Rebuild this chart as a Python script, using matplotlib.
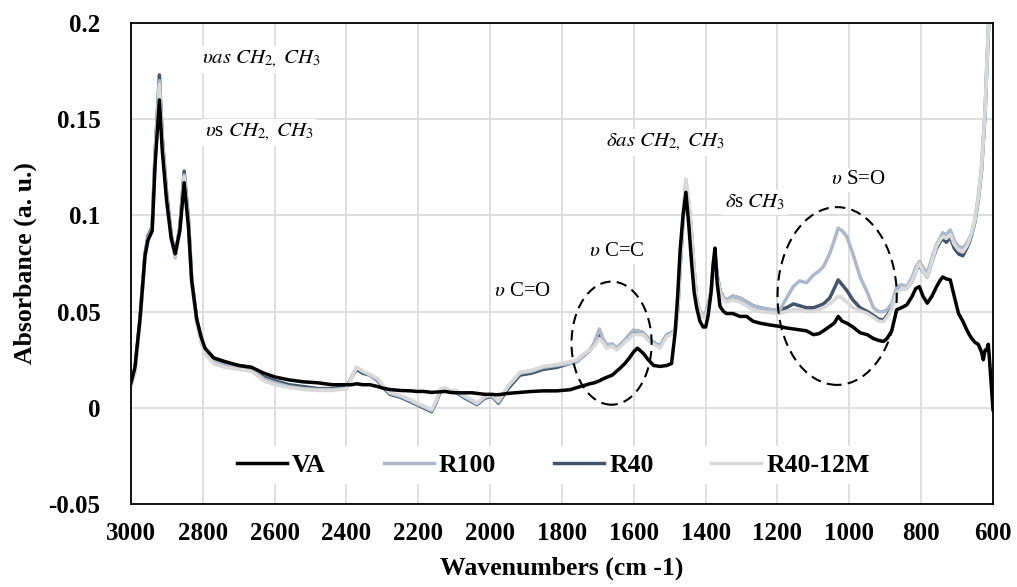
import matplotlib
matplotlib.use("Agg")
import matplotlib.pyplot as plt
from matplotlib.patches import Ellipse

plt.rcParams['font.family'] = ['Liberation Serif', 'DejaVu Serif']
plt.rcParams['mathtext.fontset'] = 'stix'

# wavenumbers (cm-1), shared by all spectra
wn = [3000, 2989, 2975, 2961, 2953, 2941, 2933, 2921, 2913, 2901, 2888, 2877, 2864, 2852, 2840,
      2831, 2817, 2805, 2794, 2770, 2738, 2700, 2664, 2630, 2599, 2560, 2520, 2480, 2440,
      2400, 2385, 2372, 2355, 2335, 2312, 2295, 2279, 2250, 2220, 2204, 2185, 2163, 2150, 2138,
      2126, 2110, 2094, 2070, 2050, 2037, 2015, 1996, 1985, 1977, 1950, 1917, 1885, 1852, 1815,
      1777, 1759, 1740, 1722, 1710, 1696, 1686, 1676, 1660, 1648, 1636, 1625, 1612, 1601, 1590,
      1574, 1560, 1545, 1527, 1508, 1495, 1485, 1478, 1471, 1463, 1455, 1447, 1439, 1432, 1425,
      1416, 1407, 1400, 1393, 1385, 1379, 1374, 1368, 1360, 1350, 1342, 1324, 1305, 1286, 1268,
      1249, 1220, 1193, 1175, 1156, 1138, 1119, 1100, 1085, 1072, 1055, 1042, 1031, 1020, 1007,
      990, 970, 950, 933, 918, 905, 895, 882, 868, 855, 840, 825, 815, 805, 795, 783, 770, 757,
      748, 740, 730, 719, 708, 696, 684, 673, 666, 659, 650, 641, 632, 627, 622, 618, 613, 609,
      605, 600]

va = [0.013, 0.021, 0.046, 0.079, 0.087, 0.092, 0.126, 0.160, 0.134, 0.108, 0.088, 0.080, 0.092, 0.117, 0.094,
      0.066, 0.046, 0.037, 0.031, 0.026, 0.024, 0.022, 0.021, 0.018, 0.016, 0.0145, 0.0135, 0.013, 0.012,
      0.012, 0.012, 0.0125, 0.012, 0.012, 0.011, 0.010, 0.0095, 0.009, 0.0088, 0.0085, 0.0085, 0.008, 0.0082, 0.0083,
      0.0085, 0.008, 0.0078, 0.0078, 0.0078, 0.0075, 0.007, 0.007, 0.0068, 0.0068, 0.0075, 0.008, 0.0085, 0.0088, 0.0088,
      0.0094, 0.0105, 0.0115, 0.0125, 0.013, 0.014, 0.015, 0.0158, 0.017, 0.019, 0.021, 0.023, 0.026, 0.029, 0.031,
      0.0284, 0.025, 0.022, 0.0215, 0.022, 0.023, 0.039, 0.058, 0.082, 0.100, 0.112, 0.095, 0.075, 0.060, 0.052,
      0.045, 0.042, 0.042, 0.048, 0.060, 0.075, 0.083, 0.065, 0.0527, 0.050, 0.049, 0.049, 0.0475, 0.0475, 0.045,
      0.044, 0.043, 0.0423, 0.0415, 0.041, 0.0405, 0.040, 0.038, 0.0385, 0.040, 0.0423, 0.044, 0.0475, 0.045, 0.044,
      0.042, 0.039, 0.038, 0.036, 0.035, 0.0345, 0.036, 0.040, 0.051, 0.052, 0.0535, 0.058, 0.062, 0.063, 0.058, 0.0544, 0.058, 0.063,
      0.066, 0.068, 0.067, 0.0665, 0.058, 0.049, 0.045, 0.0405, 0.038, 0.036, 0.034, 0.033, 0.029, 0.025, 0.030, 0.030, 0.033, 0.023,
      0.012, -0.001]

r100 = [0.012, 0.019, 0.045, 0.079, 0.088, 0.093, 0.130, 0.170, 0.139, 0.110, 0.089, 0.078, 0.093, 0.121, 0.096,
        0.066, 0.045, 0.035, 0.029, 0.024, 0.022, 0.021, 0.020, 0.015, 0.013, 0.011, 0.010, 0.0095, 0.0095,
        0.010, 0.016, 0.021, 0.019, 0.017, 0.0145, 0.0105, 0.0075, 0.006, 0.0035, 0.002, 0.0005, -0.0015, 0.0035, 0.0095,
        0.010, 0.0085, 0.0085, 0.0055, 0.0035, 0.002, 0.0055, 0.0065, 0.0045, 0.003, 0.011, 0.018, 0.019, 0.021, 0.022,
        0.023, 0.024, 0.027, 0.030, 0.034, 0.041, 0.036, 0.033, 0.033, 0.031, 0.033, 0.035, 0.038, 0.0405, 0.040,
        0.039, 0.036, 0.034, 0.032, 0.038, 0.039, 0.0405, 0.050, 0.073, 0.098, 0.117, 0.106, 0.090, 0.071, 0.056,
        0.050, 0.048, 0.049, 0.053, 0.060, 0.072, 0.079, 0.068, 0.061, 0.057, 0.056, 0.058, 0.057, 0.055, 0.053,
        0.052, 0.051, 0.051, 0.057, 0.063, 0.066, 0.065, 0.069, 0.071, 0.0734, 0.080, 0.087, 0.0934, 0.092, 0.089,
        0.080, 0.068, 0.060, 0.052, 0.050, 0.050, 0.051, 0.054, 0.063, 0.064, 0.063, 0.068, 0.073, 0.076, 0.073, 0.070, 0.078, 0.085,
        0.088, 0.091, 0.090, 0.0925, 0.087, 0.084, 0.083, 0.0855, 0.088, 0.091, 0.098, 0.110, 0.125, 0.140, 0.155, 0.175, 0.198, 0.215,
        0.225, 0.235]

r40 = [0.012, 0.020, 0.046, 0.080, 0.089, 0.094, 0.132, 0.173, 0.141, 0.112, 0.090, 0.079, 0.094, 0.123, 0.098,
       0.067, 0.046, 0.036, 0.030, 0.025, 0.023, 0.022, 0.021, 0.016, 0.014, 0.012, 0.011, 0.010, 0.010,
       0.011, 0.016, 0.020, 0.018, 0.017, 0.014, 0.010, 0.007, 0.0055, 0.003, 0.0016, 0.000, -0.002, 0.003, 0.009,
       0.0094, 0.008, 0.008, 0.005, 0.003, 0.0016, 0.005, 0.006, 0.004, 0.0024, 0.010, 0.017, 0.018, 0.020, 0.021,
       0.023, 0.024, 0.027, 0.030, 0.033, 0.039, 0.035, 0.032, 0.033, 0.031, 0.033, 0.035, 0.038, 0.040, 0.040,
       0.039, 0.036, 0.034, 0.032, 0.038, 0.039, 0.040, 0.050, 0.073, 0.098, 0.117, 0.106, 0.090, 0.071, 0.056,
       0.050, 0.048, 0.049, 0.053, 0.060, 0.073, 0.080, 0.069, 0.061, 0.057, 0.056, 0.058, 0.057, 0.055, 0.053,
       0.052, 0.051, 0.051, 0.052, 0.054, 0.053, 0.052, 0.052, 0.053, 0.054, 0.057, 0.062, 0.0665, 0.064, 0.061,
       0.056, 0.052, 0.050, 0.048, 0.046, 0.0457, 0.048, 0.052, 0.061, 0.062, 0.062, 0.066, 0.071, 0.074, 0.071, 0.068, 0.076, 0.083,
       0.086, 0.088, 0.086, 0.0885, 0.083, 0.080, 0.079, 0.083, 0.086, 0.090, 0.097, 0.108, 0.123, 0.138, 0.153, 0.173, 0.196, 0.213,
       0.223, 0.233]

r40_12m = [0.011, 0.018, 0.044, 0.078, 0.087, 0.092, 0.129, 0.168, 0.138, 0.109, 0.088, 0.079, 0.092, 0.120, 0.095,
           0.065, 0.044, 0.034, 0.028, 0.023, 0.021, 0.020, 0.019, 0.014, 0.012, 0.0105, 0.0095, 0.009, 0.009,
           0.010, 0.016, 0.021, 0.019, 0.0175, 0.015, 0.011, 0.008, 0.0065, 0.004, 0.0025, 0.001, -0.001, 0.004, 0.010,
           0.0105, 0.009, 0.009, 0.006, 0.004, 0.0025, 0.006, 0.007, 0.005, 0.0035, 0.0115, 0.0185, 0.0195, 0.0215, 0.0225,
           0.024, 0.025, 0.028, 0.030, 0.032, 0.036, 0.034, 0.031, 0.032, 0.030, 0.032, 0.034, 0.036, 0.038, 0.038,
           0.038, 0.035, 0.033, 0.031, 0.037, 0.038, 0.040, 0.050, 0.074, 0.100, 0.119, 0.108, 0.091, 0.072, 0.056,
           0.050, 0.047, 0.048, 0.052, 0.059, 0.072, 0.079, 0.068, 0.060, 0.056, 0.055, 0.056, 0.055, 0.053, 0.051,
           0.050, 0.0495, 0.049, 0.050, 0.051, 0.051, 0.050, 0.050, 0.051, 0.052, 0.054, 0.056, 0.058, 0.057, 0.055,
           0.052, 0.0505, 0.049, 0.047, 0.045, 0.0448, 0.047, 0.051, 0.060, 0.062, 0.062, 0.066, 0.071, 0.075, 0.071, 0.068, 0.076, 0.084,
           0.087, 0.089, 0.088, 0.090, 0.085, 0.082, 0.081, 0.084, 0.087, 0.091, 0.098, 0.109, 0.124, 0.139, 0.154, 0.174, 0.197, 0.214,
           0.224, 0.234]

series = [("R40", r40, "#44546a"), ("R100", r100, "#adb9ca"),
          ("R40-12M", r40_12m, "#d9d9d9"), ("VA", va, "#000000")]
legend_order = ["VA", "R100", "R40", "R40-12M"]

# band labels: (text, wavenumber, absorbance)
bands = [
    (r"$\upsilon as\ CH_{2,}\ CH_3$", 2636, 0.181),
    (r"$\upsilon$s $CH_{2,}\ CH_3$", 2644, 0.143),
    (r"$\delta as\ CH_{2,}\ CH_3$", 1513, 0.138),
    (r"$\delta$s $CH_3$", 1263, 0.1065),
    (r"$\upsilon$ S=O", 976, 0.1185),
    (r"$\upsilon$ C=C", 1647, 0.081),
    (r"$\upsilon$ C=O", 1911, 0.0603),
]
# dashed ellipses: (centre wn, centre abs, width, height)
circles = [(1662, 0.0336, 223, 0.064), (1034, 0.0581, 332, 0.0924)]

fig = plt.figure(figsize=(10.17, 5.87), dpi=100)
ax = fig.add_axes([0.1288, 0.1414, 0.8476, 0.8194])

lines = {}
for name, vals, col in series:
    lines[name], = ax.plot(wn, vals, color=col, lw=2.5, label=name, zorder=2)

for txt, x, y in bands:
    ax.text(x, y, txt, ha="center", va="center", fontsize=15, zorder=1.5,
            bbox=dict(facecolor="white", edgecolor="none", pad=2))

for cx, cy, w, h in circles:
    ax.add_patch(Ellipse((cx, cy), w, h, fill=False, edgecolor="black",
                         lw=1.5, linestyle=(0, (5, 3)), zorder=3))

ax.set_xlim(3000, 600)
ax.set_ylim(-0.05, 0.2)
ax.set_xticks(range(3000, 599, -200))
ax.set_yticks([-0.05, 0, 0.05, 0.1, 0.15, 0.2])
ax.set_yticklabels(["-0.05", "0", "0.05", "0.1", "0.15", "0.2"])
ax.grid(True, color="#d9d9d9", lw=1.2)
ax.set_axisbelow(True)
ax.tick_params(length=0, labelsize=18, pad=13)
ax.tick_params(axis="y", pad=22)
for lab in ax.get_xticklabels() + ax.get_yticklabels():
    lab.set_fontweight("bold")
for sp in ax.spines.values():
    sp.set_color("black")
    sp.set_linewidth(1.3)

ax.set_xlabel("Wavenumbers (cm -1)", fontsize=18.5, fontweight="bold", labelpad=8)
ax.set_ylabel("Absorbance (a. u.)", fontsize=18.5, fontweight="bold", labelpad=8)

leg = ax.legend([lines[n] for n in legend_order], legend_order, loc="center",
                bbox_to_anchor=(0.49, 0.081), ncol=4, frameon=True,
                facecolor="white", edgecolor="none", framealpha=1,
                prop={"weight": "bold", "size": 18.5}, handlelength=1.95,
                handletextpad=0.2, columnspacing=2.25, borderpad=0.3)
leg.set_zorder(4)

fig.savefig("out.png", dpi=100)
